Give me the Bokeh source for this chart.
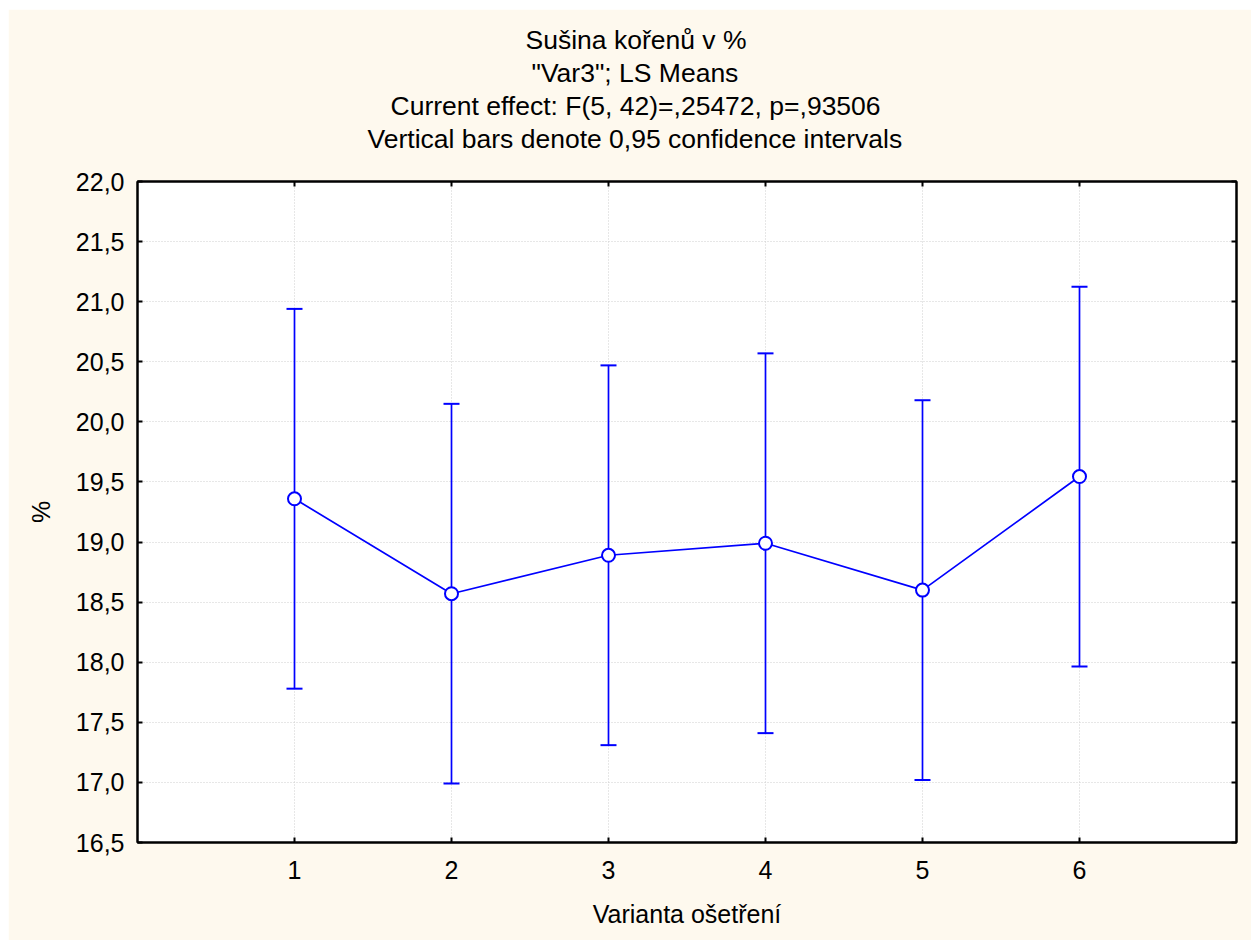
from bokeh.plotting import figure
from bokeh.models import (ColumnDataSource, Whisker, TeeHead, LinearAxis, FixedTicker,
                          CustomJSTickFormatter, Title, Range1d, Spacer)
from bokeh.layouts import row, column
from bokeh.embed import file_html
from bokeh.resources import INLINE

variants = [1, 2, 3, 4, 5, 6]
means = [19.36, 18.57, 18.89, 18.99, 18.60, 19.545]
upper = [20.94, 20.15, 20.47, 20.57, 20.18, 21.125]
lower = [17.78, 16.99, 17.31, 17.41, 17.02, 17.965]
y_ticks = [16.5, 17.0, 17.5, 18.0, 18.5, 19.0, 19.5, 20.0, 20.5, 21.0, 21.5, 22.0]
x_ticks = [1, 2, 3, 4, 5, 6]
title_lines = ["Sušina kořenů v %", "\"Var3\"; LS Means",
               "Current effect: F(5, 42)=,25472, p=,93506",
               "Vertical bars denote 0,95 confidence intervals"]
# left offsets (px from the frame's left edge) that centre each line on the whole chart
title_offsets = [388, 394, 253, 230]

FONT = "Liberation Sans"
FS = "25px"
TFS = "26.5px"
BLUE = "#0000ff"
CREAM = "#FEF9EE"

src = ColumnDataSource(dict(x=variants, m=means, upper=upper, lower=lower))

p = figure(width=1243, height=931, x_range=Range1d(0, 7), y_range=Range1d(16.5, 22.0),
           output_backend="svg", toolbar_location=None, title=None,
           min_border_left=129, min_border_right=15, min_border_bottom=98, min_border_top=172,
           background_fill_color="white", border_fill_color=CREAM,
           outline_line_color="black", outline_line_width=2)

comma_fmt = CustomJSTickFormatter(code="return tick.toFixed(1).replace('.', ',');")
empty_fmt = CustomJSTickFormatter(code="return '';")

for ax in (p.xaxis[0], p.yaxis[0]):
    ax.axis_line_width = 2
    ax.axis_line_color = "black"
    ax.major_tick_line_width = 2
    ax.major_tick_in = 5
    ax.major_tick_out = 0
    ax.minor_tick_line_color = None
    ax.major_label_text_font = FONT
    ax.major_label_text_font_size = FS
    ax.major_label_text_color = "black"
    ax.axis_label_text_font = FONT
    ax.axis_label_text_font_size = FS
    ax.axis_label_text_font_style = "normal"
    ax.axis_label_text_color = "black"

p.xaxis.ticker = FixedTicker(ticks=x_ticks)
p.xaxis.axis_label = "Varianta ošetření"
p.xaxis.major_label_standoff = 18
p.xaxis.axis_label_standoff = 18

p.yaxis.ticker = FixedTicker(ticks=y_ticks)
p.yaxis.formatter = comma_fmt
p.yaxis.axis_label = "%"
p.yaxis.major_label_standoff = 13
p.yaxis.axis_label_standoff = 18

top_axis = LinearAxis(ticker=FixedTicker(ticks=x_ticks), formatter=empty_fmt,
                      axis_line_width=2, major_tick_line_width=2, major_tick_in=5,
                      major_tick_out=0, minor_tick_line_color=None, major_label_standoff=0,
                      major_label_text_font_size="1px")
right_axis = LinearAxis(ticker=FixedTicker(ticks=y_ticks), formatter=empty_fmt,
                        axis_line_width=2, major_tick_line_width=2, major_tick_in=5,
                        major_tick_out=0, minor_tick_line_color=None, major_label_standoff=0,
                        major_label_text_font_size="1px")
p.add_layout(top_axis, "above")
p.add_layout(right_axis, "right")

# empty spacer title creating the gap between the title block and the frame
p.add_layout(Title(text=" ", text_font=FONT, text_font_size="22px", standoff=0), "above")
for t, off in reversed(list(zip(title_lines, title_offsets))):
    p.add_layout(Title(text=t, align="left", offset=off, text_font=FONT, text_font_size=TFS,
                       text_font_style="normal", text_color="black", standoff=1), "above")

p.xgrid.ticker = FixedTicker(ticks=x_ticks)
p.ygrid.ticker = FixedTicker(ticks=y_ticks)
for g in (p.xgrid[0], p.ygrid[0]):
    g.grid_line_color = "#cfcfcf"
    g.grid_line_dash = "1 2"
    g.grid_line_width = 1

p.add_layout(Whisker(source=src, base="x", upper="upper", lower="lower",
                     line_color=BLUE, line_width=1.7,
                     upper_head=TeeHead(size=16, line_color=BLUE, line_width=2),
                     lower_head=TeeHead(size=16, line_color=BLUE, line_width=2)))
p.line("x", "m", source=src, line_color=BLUE, line_width=1.7)
p.scatter("x", "m", source=src, marker="circle", size=13, fill_color="white",
          line_color=BLUE, line_width=2)

layout = row(Spacer(width=8, height=940, background="white"),
             column(Spacer(width=1243, height=9, background="white"), p))
open("out.html", "w").write(file_html(layout, INLINE))
